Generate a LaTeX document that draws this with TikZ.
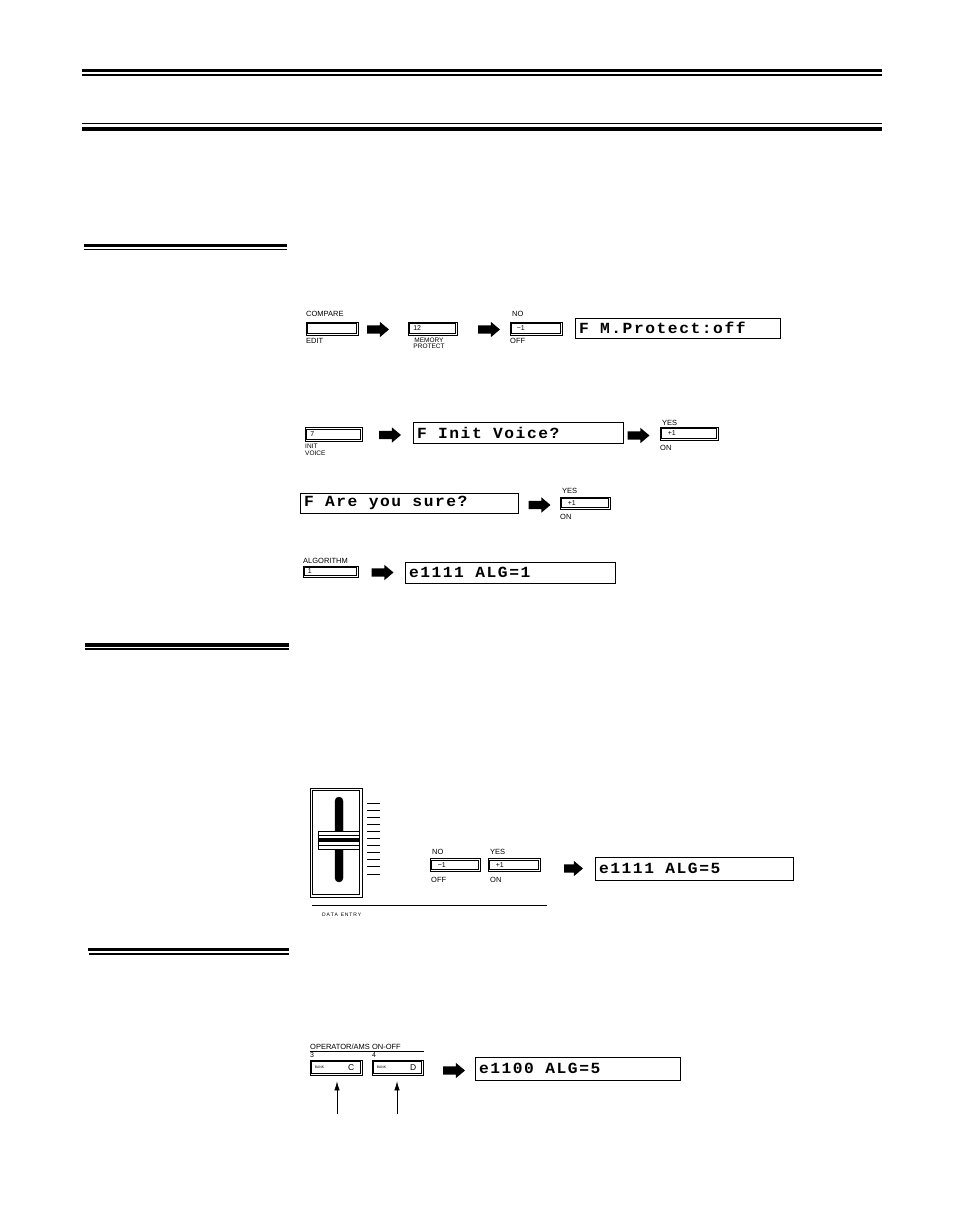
\documentclass[tikz,border=0pt]{standalone}
\usepackage{fontspec}
\setmainfont{Liberation Sans}
\newfontfamily\lcdfont[FakeStretch=1.05, LetterSpace=10]{Liberation Mono}
\usepackage{tikz}
\usetikzlibrary{arrows.meta,shapes.arrows}
\usetikzlibrary{positioning}

\newcommand{\keyframe}[1]{\draw[line width=1pt] ([shift={(2.3pt,-2.3pt)}]#1.north west) rectangle ([shift={(-2.3pt,2.3pt)}]#1.south east);}
\newcommand{\lcdsize}{\lcdfont\bfseries\fontsize{15.5}{15.5}\selectfont}
\newcommand{\lcdgap}{\hspace*{11.3pt}}

\begin{document}
\begin{tikzpicture}[x=1pt, y=-1pt, line cap=butt]
    \tikzstyle{key}=[draw, line width=0.8pt, inner sep=0pt, minimum height=13pt]
    \tikzstyle{keytext}=[inner sep=0pt, font=\fontsize{7}{7}\selectfont]
    \tikzstyle{lbl}=[inner sep=0pt, anchor=base west, font=\fontsize{7.5}{7}\selectfont]
    \tikzstyle{lcd}=[draw, line width=1pt, inner xsep=4pt, inner ysep=0pt, align=left, font=\lcdsize]
    \tikzstyle{bigarrow}=[single arrow, fill=black, inner xsep=0pt, inner ysep=4pt, minimum height=22pt, single arrow head extend=3.5pt, single arrow tip angle=80]

    \useasboundingbox (0,0) rectangle (954,1227);

    % page rules
    \draw[line width=2.8pt] (82,70.7) -- (882,70.7);
    \draw[line width=1.8pt] (82,74.8) -- (882,74.8);
    \draw[line width=1.1pt] (82,123.8) -- (882,123.8);
    \draw[line width=4pt] (82,128.7) -- (882,128.7);
    \draw[line width=2.8pt] (84,245.3) -- (287,245.3);
    \draw[line width=1.6pt] (84,249.5) -- (287,249.5);
    \draw[line width=3.2pt] (85,645) -- (289,645);
    \draw[line width=1.8pt] (85,649) -- (289,649);
    \draw[line width=2.8pt] (88,949.7) -- (289,949.7);
    \draw[line width=1.6pt] (89,953.8) -- (289,953.8);

    % memory protect
    \node[key, minimum width=52pt] (compare) at (332,328.5) {};
    \node[lbl] (compareLbl) at (306,316.5) {COMPARE};
    \node[lbl] (editLbl) at (306,343.5) {EDIT};
    \node[bigarrow] (arrA) at (375.5,329.5) {};
    \node[key, minimum width=49pt] (protectKey) at (432.5,328.5) {};
    \node[keytext, right=5.5pt of protectKey.west] {12};
    \node[lbl, anchor=north, align=center, font=\fontsize{6.5}{6.5}\selectfont] (protectLbl) at (429,337.5) {MEMORY\\PROTECT};
    \node[bigarrow] (arrB) at (486.5,329.5) {};
    \node[key, minimum width=52pt] (noA) at (536,328.5) {};
    \node[keytext, right=7pt of noA.west] {−1};
    \node[lbl] at (512,316.5) {NO};
    \node[lbl] at (510,343.5) {OFF};
    \node[lcd, text width=197pt, minimum height=20pt] (protect) at (677.5,328) {F\lcdgap M.Protect:off};

    % init voice
    \node[key, minimum width=57pt, minimum height=14pt] (initKey) at (333.5,434.5) {};
    \node[keytext, right=5.5pt of initKey.west] {7};
    \node[lbl, anchor=north west, align=left, font=\fontsize{6.5}{6.5}\selectfont] (initLbl) at (305,444) {INIT\\VOICE};
    \node[bigarrow] (arrC) at (387.5,435) {};
    \node[lcd, text width=202pt, minimum height=21pt] (initVoice) at (518,432.5) {F\lcdgap Init\lcdgap Voice?};
    \node[bigarrow] (arrD) at (636,435.5) {};
    \node[key, minimum width=58pt] (yesA) at (689,433.5) {};
    \node[keytext, right=8pt of yesA.west] {+1};
    \node[lbl] at (662,425) {YES};
    \node[lbl] at (660,450.5) {ON};

    \node[lcd, text width=210pt, minimum height=20pt] (sure) at (409,503) {F\lcdgap Are\lcdgap you\lcdgap sure?};
    \node[bigarrow] (arrE) at (537,505) {};
    \node[key, minimum width=50pt, minimum height=12pt] (yesB) at (585,503) {};
    \node[keytext, right=8pt of yesB.west] {+1};
    \node[lbl] at (562,493) {YES};
    \node[lbl] at (560,519.5) {ON};

    \node[lbl] at (303,563) {ALGORITHM};
    \node[key, minimum width=55pt, minimum height=11pt] (algKey) at (330.5,571.5) {};
    \node[keytext, right=5pt of algKey.west] {1};
    \node[bigarrow] (arrF) at (380,572.5) {};
    \node[lcd, text width=202pt, minimum height=21pt] (algA) at (510,572.5) {e1111\lcdgap ALG=1};

    % data entry slider
    \node[draw, line width=0.8pt, minimum width=52pt, minimum height=109pt, inner sep=0pt] (slider) at (336,842.5) {};
    \draw[line width=0.8pt] ([shift={(2.8pt,-2.8pt)}]slider.north west) rectangle ([shift={(-2.8pt,2.8pt)}]slider.south east);
    \draw[fill=black, rounded corners=4pt] (335,797) rectangle (343,882);
    \node[draw, fill=white, line width=0.9pt, minimum width=41pt, minimum height=18pt, inner sep=0pt] (knob) at (338.5,840) {};
    \draw[line width=0.7pt] ([yshift=5pt]knob.west) -- ([yshift=5pt]knob.east);
    \draw[line width=3.5pt] (knob.west) -- (knob.east);
    \draw[line width=0.7pt] ([yshift=-5pt]knob.west) -- ([yshift=-5pt]knob.east);
    \foreach \t in {0,...,10}
        \draw[line width=0.9pt] (367,{803+7.1*\t}) -- (380,{803+7.1*\t});
    \draw[line width=1pt] (312,905) -- (547,905);
    \node[lbl, font=\fontsize{5}{5}\selectfont] at (322,916) {D\,A\,T\,A\ \ E\,N\,T\,R\,Y};

    \node[key, minimum width=50pt] (noB) at (455,865) {};
    \node[keytext, right=8pt of noB.west] {−1};
    \node[lbl] at (432,854) {NO};
    \node[lbl] at (431,882.5) {OFF};
    \node[key, minimum width=52pt] (yesC) at (514,865) {};
    \node[keytext, right=8pt of yesC.west] {+1};
    \node[lbl] at (490,854) {YES};
    \node[lbl] at (490,882.5) {ON};
    \node[bigarrow, minimum height=19pt] (arrG) at (571,868.5) {};
    \node[lcd, text width=190pt, minimum height=23pt] (algB) at (694,868.5) {e1111\lcdgap ALG=5};

    % operator on-off
    \node[lbl] (opLbl) at (310,1049) {OPERATOR/AMS ON-OFF};
    \draw[line width=0.8pt] (310,1051.5) -- (424,1051.5);
    \node[lbl, font=\fontsize{7}{7}\selectfont] at (310,1057.5) {3};
    \node[lbl, font=\fontsize{7}{7}\selectfont] at (372,1057.5) {4};
    \node[key, minimum width=52pt, minimum height=15pt] (bankC) at (336,1067.5) {};
    \node[keytext, font=\fontsize{3.5}{4}\selectfont, right=5pt of bankC.west] {BANK};
    \node[keytext, font=\fontsize{8.5}{8}\selectfont, left=8pt of bankC.east] {C};
    \node[key, minimum width=51pt, minimum height=15pt] (bankD) at (397.5,1067.5) {};
    \node[keytext, font=\fontsize{3.5}{4}\selectfont, right=5pt of bankD.west] {BANK};
    \node[keytext, font=\fontsize{8.5}{8}\selectfont, left=7pt of bankD.east] {D};
    \coordinate (pushC) at (337,1114);
    \coordinate (pushD) at (397,1114);
    \draw[-{Latex[length=9pt,width=5.5pt]}, line width=0.7pt, shorten >=6pt] (pushC) -- (pushC |- bankC.south);
    \draw[-{Latex[length=9pt,width=5.5pt]}, line width=0.7pt, shorten >=6pt] (pushD) -- (pushD |- bankD.south);
    \node[bigarrow] (arrH) at (451.5,1070.5) {};
    \node[lcd, text width=197pt, minimum height=23pt] (algC) at (577.5,1068.5) {e1100\lcdgap ALG=5};

    % inner frames of the keys
    \foreach \k in {compare,protectKey,noA,initKey,yesA,yesB,algKey,noB,yesC,bankC,bankD} {
        \keyframe{\k}
    }

\end{tikzpicture}
\end{document}
